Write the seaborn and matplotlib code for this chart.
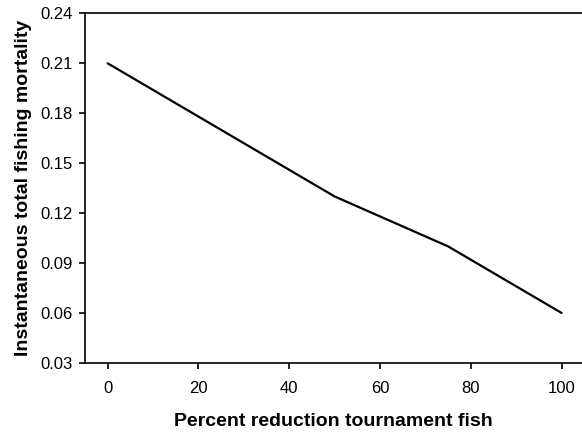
import matplotlib
matplotlib.use("Agg")
import matplotlib.pyplot as plt
import pandas as pd
import seaborn as sns

# values
percent_reduction = [0, 25, 50, 75, 100]
fishing_mortality = [0.21, 0.17, 0.13, 0.10, 0.06]

x_ticks = [0, 20, 40, 60, 80, 100]
y_ticks = [0.03, 0.06, 0.09, 0.12, 0.15, 0.18, 0.21, 0.24]

df = pd.DataFrame({"reduction": percent_reduction, "mortality": fishing_mortality})

sns.set_style("ticks")
plt.rcParams["font.family"] = ["Liberation Sans", "DejaVu Sans"]
plt.rcParams["text.color"] = "black"
plt.rcParams["axes.labelcolor"] = "black"

fig = plt.figure(figsize=(5.82, 4.32), dpi=100)
ax = fig.add_axes([0.146, 0.160, 0.854, 0.809])

sns.lineplot(data=df, x="reduction", y="mortality", color="black", linewidth=1.6, ax=ax)

ax.set_xlim(-5, 104.5)
ax.set_ylim(0.03, 0.24)
ax.set_xticks(x_ticks)
ax.set_yticks(y_ticks)
ax.set_yticklabels([f"{v:.2f}" for v in y_ticks])

for side in ["left", "bottom", "top"]:
    ax.spines[side].set_linewidth(1.2)
    ax.spines[side].set_color("black")
ax.spines["right"].set_visible(False)

ax.tick_params(axis="both", direction="out", length=4, width=1.2, colors="black", labelsize=12)
ax.tick_params(axis="y", pad=5)
ax.tick_params(axis="x", pad=9)

ax.set_xlabel("Percent reduction tournament fish", fontsize=14, fontweight="bold", labelpad=12, color="black")
ax.set_ylabel("Instantaneous total fishing mortality", fontsize=14, fontweight="bold", labelpad=6, color="black")

fig.savefig("out.png", dpi=100)
plt.close(fig)
